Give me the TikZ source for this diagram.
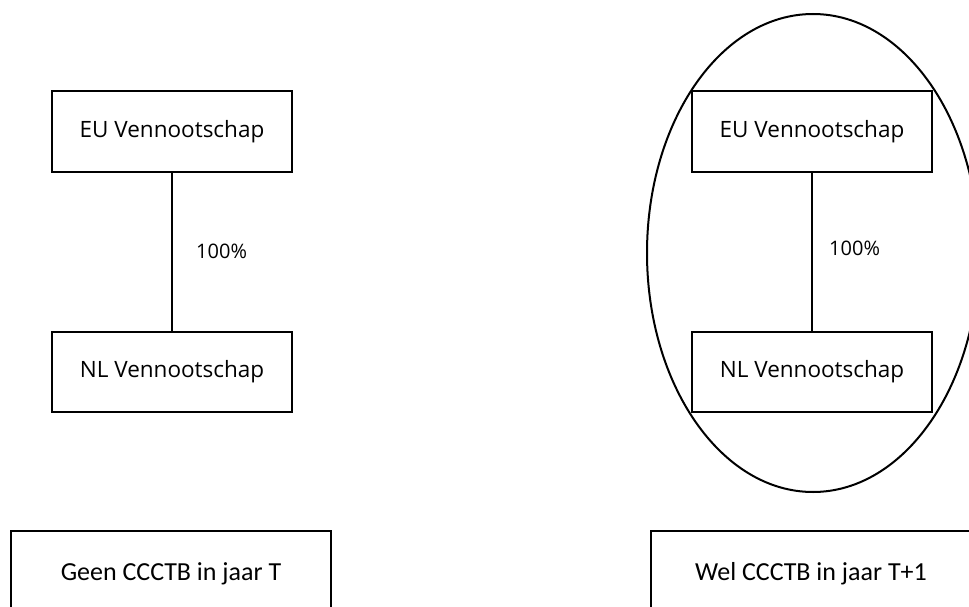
\documentclass[tikz,border=0pt]{standalone}
\usepackage{fontspec}
\setmainfont{Open Sans}
\newfontfamily\capfont{Carlito}
\usetikzlibrary{shapes.geometric}
\tikzset{
  entity/.style={draw, line width=2pt, minimum width=240pt, minimum height=80pt, inner sep=0pt, font=\fontsize{22.5}{26}\selectfont},
  caption/.style={draw, line width=2pt, minimum width=320pt, minimum height=86pt, inner sep=0pt, font=\capfont\fontsize{26}{30}\selectfont},
  pct/.style={anchor=west, inner sep=0pt, font=\fontsize{20}{24}\selectfont},
  link/.style={line width=2pt},
  group/.style={draw, ellipse, line width=2pt, minimum width=332pt, minimum height=478pt, inner sep=0pt}
}
\begin{document}
\begin{tikzpicture}[x=1pt, y=-1pt]
\useasboundingbox (0,0) rectangle (969,607);
\clip (0,0) rectangle (969,607);
% left group
\node[entity] (euL) at (172,131.5) {EU Vennootschap};
\node[entity] (nlL) at (172,372) {NL Vennootschap};
\draw[link] (euL.south) -- (nlL.north);
\node[pct] (pctL) at (196,251.5) {100\%};
% right group
\node[group] (grp) at (813,253) {};
\node[entity] (euR) at (812,131.5) {EU Vennootschap};
\node[entity] (nlR) at (812,371.5) {NL Vennootschap};
\draw[link] (euR.south) -- (nlR.north);
\node[pct] (pctR) at (829,248.5) {100\%};
% captions
\node[caption] (capL) at (171,574) {Geen CCCTB in jaar T};
\node[caption] (capR) at (811,574) {Wel CCCTB in jaar T+1};
\end{tikzpicture}
\end{document}
